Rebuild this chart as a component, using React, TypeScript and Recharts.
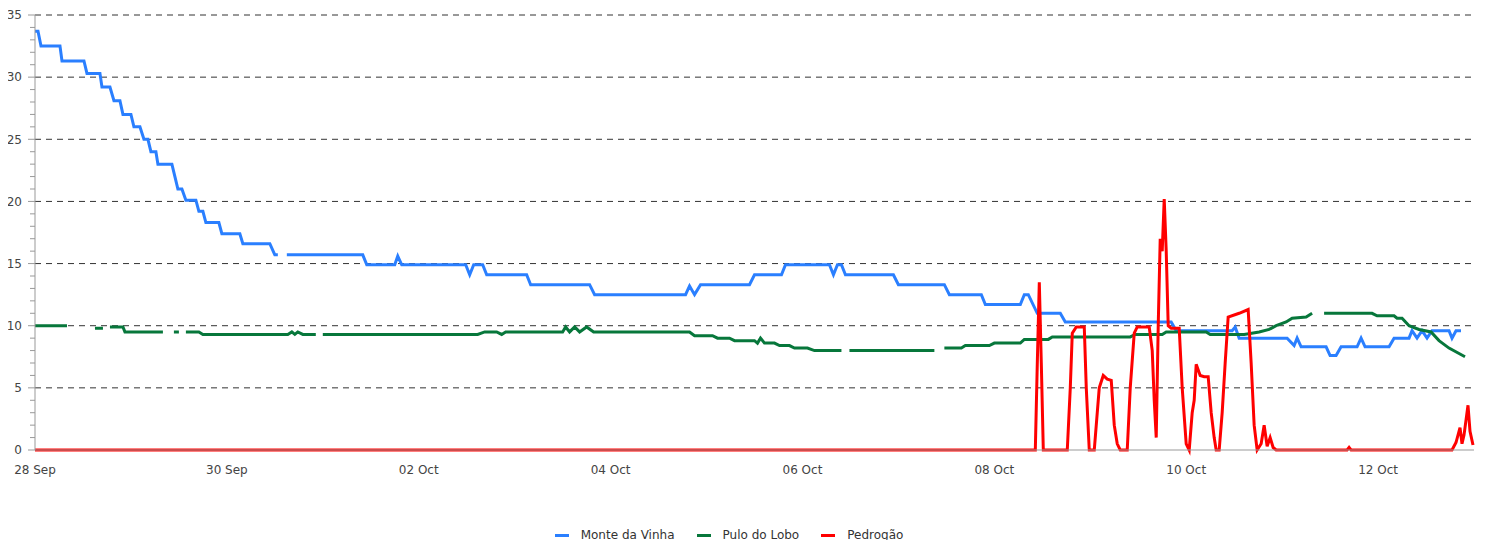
import React from 'react';
import { LineChart, Line, XAxis, YAxis, CartesianGrid, Legend } from 'recharts';

// hours since 28 Sep 00:00, value (null = gap)
type Pt = [number, number | null];

const monteDaVinha: Pt[] = [
  [0, 33.7], [0.75, 33.7], [1.5, 32.5], [6.25, 32.5], [6.75, 31.3], [12.25, 31.3], [13, 30.3], [16.25, 30.3],
  [16.75, 29.2], [18.75, 29.2], [19.75, 28.1], [21.25, 28.1], [22, 27.0], [24, 27.0], [24.75, 26.0], [26.25, 26.0],
  [27.25, 25.0], [28.25, 25.0], [29, 24.0], [30.25, 24.0], [30.75, 23.0], [34.25, 23.0], [35, 22.0], [35.75, 21.0],
  [36.75, 21.0], [37.75, 20.1], [40.25, 20.1], [41, 19.2], [42, 19.2], [42.75, 18.3], [46, 18.3], [46.75, 17.4],
  [51.25, 17.4], [52, 16.6], [58.75, 16.6], [60, 15.7], [60.75, 15.7], [61.5, null], [63, 15.7], [82, 15.7],
  [83, 14.9], [90, 14.9], [90.75, 15.6], [91.75, 14.9], [107.75, 14.9], [108.75, 14.1], [109.75, 14.9], [112, 14.9],
  [113, 14.1], [123, 14.1], [124, 13.3], [138.75, 13.3], [140, 12.5], [162.75, 12.5], [163.75, 13.2], [165, 12.5],
  [166.5, 13.3], [178.75, 13.3], [180, 14.1], [186.75, 14.1], [187.75, 14.9], [198.75, 14.9], [199.75, 14.1],
  [200.75, 14.9], [201.75, 14.9], [202.75, 14.1], [214.75, 14.1], [216, 13.3], [227.5, 13.3], [228.75, 12.5],
  [236.75, 12.5], [237.75, 11.7], [246.5, 11.7], [247.5, 12.5], [248.5, 12.5], [250.75, 11.0], [256.5, 11.0],
  [257.75, 10.3], [284.25, 10.3], [285.5, 9.6], [299.5, 9.6], [300.25, 9.9], [301.25, 9.0], [313.25, 9.0],
  [315, 8.4], [315.75, 9.0], [316.75, 8.3], [323, 8.3], [324, 7.6], [325.5, 7.6], [326.75, 8.3], [330.75, 8.3],
  [331.75, 9.0], [332.75, 8.3], [338.75, 8.3], [340, 9.0], [343.75, 9.0], [344.5, 9.6], [345.75, 9.0], [347, 9.6],
  [348.25, 9.0], [349.5, 9.6], [353.75, 9.6], [354.5, 9.0], [355.5, 9.6], [356.75, 9.6],
];

const puloDoLobo: Pt[] = [
  [0, 10.0], [8, 10.0], [8.5, null], [15, 9.8], [17, 9.8], [17.5, null], [18.75, 9.9], [22, 9.9], [22.5, 9.5],
  [32, 9.5], [32.5, null], [34.75, 9.5], [36, 9.5], [36.5, null], [37.75, 9.5], [41, 9.5], [42, 9.3],
  [63.25, 9.3], [64.25, 9.5], [65, 9.3], [65.75, 9.5], [67, 9.3], [70.25, 9.3], [71, null], [72, 9.3],
  [110.75, 9.3], [112.5, 9.5], [115.5, 9.5], [116.75, 9.3], [117.75, 9.5], [132, 9.5], [132.75, 9.9],
  [133.75, 9.5], [135, 9.9], [136.25, 9.5], [138, 9.9], [139.75, 9.5], [163.75, 9.5], [165, 9.2], [169.5, 9.2],
  [170.75, 9.0], [173.75, 9.0], [175, 8.8], [180, 8.8], [180.75, 8.6], [181.5, 9.0], [182.5, 8.6], [185, 8.6],
  [186.25, 8.4], [188.75, 8.4], [190, 8.2], [193.25, 8.2], [195, 8.0], [201.75, 8.0], [202.5, null],
  [203.75, 8.0], [225, 8.0], [226, null], [227.5, 8.2], [231.75, 8.2], [232.75, 8.4], [238.75, 8.4],
  [240, 8.6], [246.5, 8.6], [247.5, 8.9], [253.5, 8.9], [254.5, 9.1], [274, 9.1], [275.25, 9.3], [282, 9.3],
  [283, 9.5], [293, 9.5], [294, 9.3], [302.5, 9.3], [306.25, 9.5], [308.75, 9.7], [310.5, 10.0], [313, 10.3],
  [314.5, 10.6], [318, 10.7], [319.5, 11.0], [320.5, null], [322.5, 11.0], [334.5, 11.0], [335.75, 10.8],
  [340, 10.8], [340.75, 10.6], [342, 10.6], [343.75, 10.0], [346.25, 9.7], [349.25, 9.5], [351.25, 8.8],
  [353.75, 8.2], [357.75, 7.5],
];

const pedrogao: Pt[] = [
  [0, 0], [250.25, 0], [250.75, 7], [251.25, 13.5], [251.75, 7], [252.25, 0], [258.25, 0], [259, 5], [259.5, 9.4],
  [260.5, 9.9], [262.5, 9.9], [263, 5], [263.75, 0], [265, 0], [265.75, 3], [266.25, 5], [267.25, 6.0],
  [268.25, 5.7], [269.25, 5.6], [270, 2], [270.75, 0.5], [271.5, 0], [273.25, 0], [274, 5], [275, 9.4],
  [275.75, 9.9], [278.75, 9.9], [279.5, 8], [280, 4], [280.5, 1], [281, 10], [281.5, 17], [282, 16],
  [282.5, 20.2], [283, 16], [283.5, 10], [284.25, 9.8], [286.25, 9.8], [287, 5], [288, 0.5], [288.75, 0],
  [289.5, 3], [290, 4], [290.5, 6.9], [291.5, 6.0], [292.5, 5.9], [293.5, 5.9], [294.25, 3], [295, 1],
  [295.5, 0], [296.25, 0], [297, 3], [297.75, 7], [298.5, 10.7], [301.25, 11.0], [303.5, 11.3], [304.25, 7],
  [305, 2], [305.75, 0], [306.75, 0.5], [307.5, 2.0], [308.25, 0.3], [309, 1.0], [309.75, 0.2], [310.5, 0],
  [328.25, 0], [328.75, 0.2], [329.25, 0], [354.5, 0], [355.5, 0.6], [356.5, 1.8], [357, 0.5], [357.5, 1.2],
  [358.5, 3.6], [359, 1.5], [359.75, 0.4],
];

const xTicks = [0, 48, 96, 144, 192, 240, 288, 336];
const xTickLabels = ['28 Sep', '30 Sep', '02 Oct', '04 Oct', '06 Oct', '08 Oct', '10 Oct', '12 Oct'];
const yTicks = Array.from({ length: 36 }, (_, i) => i);
const gridValues = [5, 10, 15, 20, 25, 30, 35];

const FONT = '"DejaVu Sans", sans-serif';

const series = [
  { name: 'Monte da Vinha', color: '#2a7fff', data: monteDaVinha },
  { name: 'Pulo do Lobo', color: '#07773b', data: puloDoLobo },
  { name: 'Pedrogão', color: '#ff0000', data: pedrogao },
];

const toRows = (pts: Pt[]) => pts.map(([h, v]) => ({ h, v }));

function YTick(props: any) {
  const { y, payload } = props;
  const major = payload.value % 5 === 0;
  return (
    <g>
      <line x1={major ? 28 : 30} x2={35} y1={y} y2={y} stroke="#999" />
      {major && (
        <text x={22} y={y} dy="0.355em" textAnchor="end" fontSize={12} fill="#444" fontFamily={FONT}>
          {payload.value}
        </text>
      )}
    </g>
  );
}

function LegendContent() {
  return (
    <div style={{ display: 'flex', justifyContent: 'center', alignItems: 'center', height: 20, fontFamily: FONT, fontSize: 12, color: '#333', paddingRight: 16 }}>
      {series.map((s, i) => (
        <div key={s.name} style={{ display: 'flex', alignItems: 'center', marginLeft: i === 0 ? 0 : 22 }}>
          <span style={{ display: 'inline-block', width: 14, height: 3, background: s.color, marginRight: 12 }} />
          <span>{s.name}</span>
        </div>
      ))}
    </div>
  );
}

export default function App() {
  return (
    <div style={{ margin: -8, width: 1486, height: 548 }}>
      <LineChart width={1486} height={548} margin={{ top: 15, right: 12, left: 0, bottom: 3 }}>
        <CartesianGrid vertical={false} horizontalValues={gridValues} stroke="#333" strokeDasharray="6 5" />
        <XAxis
          dataKey="h"
          type="number"
          domain={[0, 360]}
          ticks={xTicks}
          tickFormatter={(v: number) => xTickLabels[xTicks.indexOf(v)] ?? ''}
          tickLine={false}
          tickMargin={9}
          axisLine={{ stroke: '#999' }}
          tick={{ fontSize: 12, fill: '#444', fontFamily: FONT }}
          height={75}
          allowDuplicatedCategory={false}
        />
        <YAxis
          type="number"
          domain={[0, 35]}
          ticks={yTicks}
          interval={0}
          width={35}
          tickLine={false}
          axisLine={{ stroke: '#999' }}
          tick={<YTick />}
        />
        <Legend verticalAlign="bottom" height={20} content={<LegendContent />} />
        {series.map((s) => (
          <Line
            key={s.name}
            data={toRows(s.data)}
            dataKey="v"
            name={s.name}
            type="linear"
            stroke={s.color}
            strokeWidth={3}
            dot={false}
            activeDot={false}
            isAnimationActive={false}
          />
        ))}
      </LineChart>
    </div>
  );
}
